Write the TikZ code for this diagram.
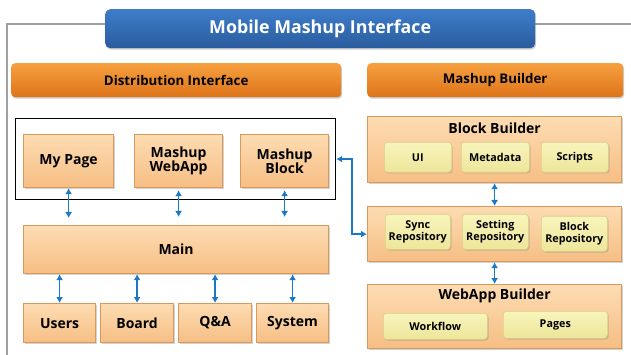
\documentclass[tikz,border=0pt]{standalone}
\usepackage{fontspec}
\setmainfont{Open Sans}
\usetikzlibrary{arrows.meta,shadows,calc}
\definecolor{peachT}{HTML}{FDDCB2}
\definecolor{peachB}{HTML}{F6BE84}
\definecolor{peachD}{HTML}{D89A5C}
\definecolor{yelT}{HTML}{F8F5BC}
\definecolor{yelB}{HTML}{EDE59A}
\definecolor{yelD}{HTML}{D8CF86}
\definecolor{orgT}{HTML}{F7A040}
\definecolor{orgB}{HTML}{DD7418}
\definecolor{bluT}{HTML}{3E7DCB}
\definecolor{bluB}{HTML}{2A5C9D}
\definecolor{arrc}{HTML}{1B78C8}
\definecolor{frm}{HTML}{A0A0A0}
\tikzset{
  peach/.style={draw=peachD, line width=1.2pt, top color=peachT, bottom color=peachB,
    inner sep=0pt, anchor=north west, align=center, font=\fontsize{14}{14}\selectfont\bfseries,
    drop shadow={shadow xshift=1pt, shadow yshift=-1pt, opacity=0.35}},
  yel/.style={draw=yelD, line width=0.6pt, top color=yelT, bottom color=yelB, rounded corners=3pt,
    inner sep=0pt, anchor=north west, align=center, font=\fontsize{10.8}{11.5}\selectfont\bfseries,
    drop shadow={shadow xshift=1.2pt, shadow yshift=-1.2pt, opacity=0.35}},
  hdr/.style={top color=orgT, bottom color=orgB, rounded corners=4pt, inner sep=0pt,
    anchor=north west, font=\fontsize{13.3}{13.3}\selectfont\bfseries,
    drop shadow={shadow xshift=1pt, shadow yshift=-1.5pt, opacity=0.4}},
  ttl/.style={font=\fontsize{14}{14}\selectfont\bfseries, inner sep=0pt},
  arr/.style={draw=arrc, line width=1.6pt, {Latex[length=6pt,width=7pt]}-{Latex[length=6pt,width=7pt]}},
}
\begin{document}
\begin{tikzpicture}[x=1pt,y=-1pt]
\useasboundingbox (0,0) rectangle (631,355);
% outer frame
\draw[frm, line width=1.5pt] (7,355) -- (7,24) -- (631,24);
% title
\node[top color=bluT, bottom color=bluB, rounded corners=5pt, inner sep=0pt, anchor=north west,
  minimum width=430pt, minimum height=39pt, text=white, font=\fontsize{17.8}{17.8}\selectfont\bfseries,
  drop shadow={shadow xshift=1pt, shadow yshift=-1.5pt, opacity=0.4}] (title) at (105,9) {Mobile Mashup Interface};
% headers
\node[hdr, minimum width=330pt, minimum height=34pt] (dist) at (11,63) {Distribution Interface};
\node[hdr, minimum width=256pt, minimum height=34pt] (mb) at (367,63) {Mashup Builder};
% left side
\node[draw=black, line width=1.2pt, inner sep=0pt, anchor=north west, minimum width=320pt, minimum height=81pt] (frame) at (15,118) {};
\node[peach, minimum width=90pt, minimum height=53pt] (mypage) at (23,134) {My Page};
\node[peach, minimum width=88pt, minimum height=53pt] (webapp) at (134,134) {Mashup\\WebApp};
\node[peach, minimum width=88pt, minimum height=53pt] (block) at (240,134) {Mashup\\Block};
\node[peach, minimum width=305pt, minimum height=48pt] (main) at (23,225) {Main};
\node[peach, minimum width=72pt, minimum height=39pt] (users) at (23,303) {Users};
\node[peach, minimum width=73pt, minimum height=39pt] (board) at (100,303) {Board};
\node[peach, minimum width=73pt, minimum height=39pt] (qa) at (178,303) {Q\&A};
\node[peach, minimum width=72pt, minimum height=39pt] (system) at (256,303) {System};
% right side
\node[peach, minimum width=254pt, minimum height=66pt] (bb) at (367,116) {};
\node[ttl] (bbt) at ($(bb.north)+(0,12)$) {Block Builder};
\node[yel, minimum width=67pt, minimum height=30pt] (ui) at (384,142) {UI};
\node[yel, minimum width=68pt, minimum height=30pt] (meta) at (461,142) {Metadata};
\node[yel, minimum width=67pt, minimum height=30pt] (scripts) at (541,142) {Scripts};
\node[peach, minimum width=254pt, minimum height=55pt] (repo) at (367,206) {};
\node[yel, minimum width=65pt, minimum height=35pt] (sync) at (385,214) {Sync\\Repository};
\node[yel, minimum width=66pt, minimum height=35pt] (setting) at (462,214) {Setting\\Repository};
\node[yel, minimum width=66pt, minimum height=35pt] (brepo) at (541,216) {Block\\Repository};
\node[peach, minimum width=254pt, minimum height=64pt] (wb) at (367,284) {};
\node[ttl] (wbt) at ($(wb.north)+(0,12)$) {WebApp Builder};
\node[yel, minimum width=104pt, minimum height=26pt] (workflow) at (383,313) {Workflow};
\node[yel, minimum width=104pt, minimum height=27pt] (pages) at (503,311) {Pages};
% connectors
\draw[arr, shorten >=7pt] (mypage.south) -- (mypage.south |- main.north);
\draw[arr, shorten >=8pt, shorten <=2pt] (webapp.south) -- (webapp.south |- main.north);
\draw[arr, shorten >=8pt, shorten <=2pt] (block.south) -- (block.south |- main.north);
\draw[arr] (users.north |- main.south) -- (users.north);
\draw[arr] (board.north |- main.south) -- (board.north);
\draw[arr] (qa.north |- main.south) -- (qa.north);
\draw[arr] (system.north |- main.south) -- (system.north);
\draw[arr] (frame.east) -- ++(16,0) |- (repo.west);
\draw[arr] (bb.south) -- (repo.north);
\draw[arr] (repo.south) -- (wb.north);
\end{tikzpicture}
\end{document}
